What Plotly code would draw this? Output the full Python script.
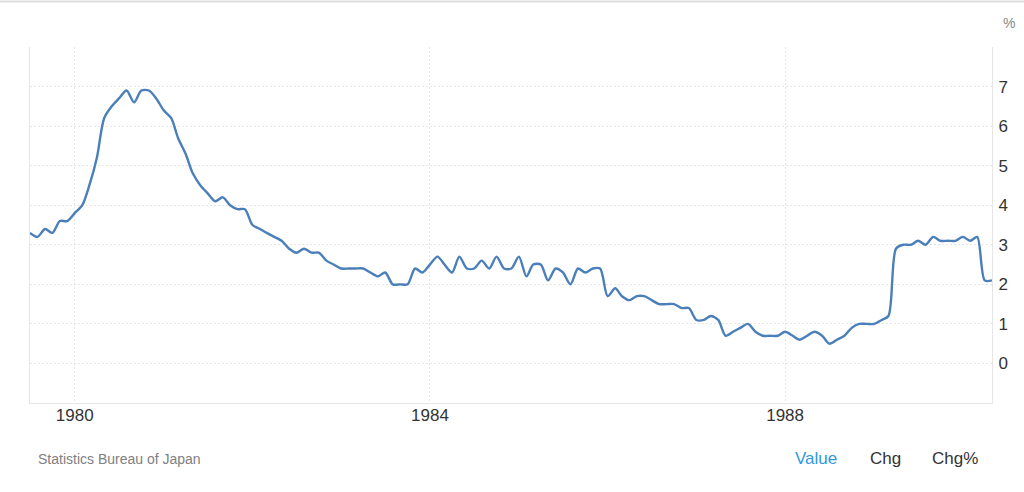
import pandas as pd
import plotly.graph_objects as go

# Monthly values, Jul 1979 .. May 1990 (percent)
start_month = "1979-07-01"
values = [
    3.3, 3.2, 3.4, 3.3, 3.6, 3.6,                                  # 1979 Jul-Dec
    3.8, 4.0, 4.5, 5.2, 6.2, 6.5, 6.7, 6.9, 6.6, 6.9, 6.9, 6.7,    # 1980
    6.4, 6.2, 5.7, 5.3, 4.8, 4.5, 4.3, 4.1, 4.2, 4.0, 3.9, 3.9,    # 1981
    3.5, 3.4, 3.3, 3.2, 3.1, 2.9, 2.8, 2.9, 2.8, 2.8, 2.6, 2.5,    # 1982
    2.4, 2.4, 2.4, 2.4, 2.3, 2.2, 2.3, 2.0, 2.0, 2.0, 2.4, 2.3,    # 1983
    2.5, 2.7, 2.5, 2.3, 2.7, 2.4, 2.4, 2.6, 2.4, 2.7, 2.4, 2.4,    # 1984
    2.7, 2.2, 2.5, 2.5, 2.1, 2.4, 2.3, 2.0, 2.4, 2.3, 2.4, 2.4,    # 1985
    1.7, 1.9, 1.7, 1.6, 1.7, 1.7, 1.6, 1.5, 1.5, 1.5, 1.4, 1.4,    # 1986
    1.1, 1.1, 1.2, 1.1, 0.7, 0.8, 0.9, 1.0, 0.8, 0.7, 0.7, 0.7,    # 1987
    0.8, 0.7, 0.6, 0.7, 0.8, 0.7, 0.5, 0.6, 0.7, 0.9, 1.0, 1.0,    # 1988
    1.0, 1.1, 1.2, 2.9, 3.0, 3.0, 3.1, 3.0, 3.2, 3.1, 3.1, 3.1,    # 1989
    3.2, 3.1, 3.2, 2.1, 2.1,                                       # 1990 Jan-May
]
dates = pd.date_range(start_month, periods=len(values), freq="MS")

x_tick_vals = ["1980-01-01", "1984-01-01", "1988-01-01"]
x_tick_text = ["1980", "1984", "1988"]
y_tick_vals = [-1, 0, 1, 2, 3, 4, 5, 6, 7, 8]
y_tick_text = ["", "0", "1", "2", "3", "4", "5", "6", "7", ""]

source_text = "Statistics Bureau of Japan"
unit_text = "%"
tabs = ["Value", "Chg", "Chg%"]

FONT = "Liberation Sans, Arial, sans-serif"

fig = go.Figure()
fig.add_trace(go.Scatter(
    x=dates, y=values, mode="lines",
    line=dict(color="#4a7fb9", width=2.4, shape="spline", smoothing=0.8),
    hoverinfo="skip", showlegend=False,
))

GRID = "#e6e6e6"
fig.update_layout(
    width=1024, height=492,
    margin=dict(l=30, r=32, t=47, b=89),
    paper_bgcolor="white", plot_bgcolor="white",
    font=dict(family=FONT, color="#333333"),
    hovermode=False,
    xaxis=dict(
        range=["1979-07-01", "1990-05-01"],
        tickvals=x_tick_vals, ticktext=x_tick_text,
        tickfont=dict(size=17, color="#333333"),
        showgrid=True, gridcolor=GRID, griddash="2px,2px", gridwidth=1,
        showline=True, linecolor="#e6e6e6", linewidth=1,
        zeroline=False, ticks="", ticklabelstandoff=-3,
    ),
    yaxis=dict(
        range=[-1, 8], side="right",
        tickvals=y_tick_vals, ticktext=y_tick_text,
        tickfont=dict(size=17, color="#333333"),
        showgrid=True, gridcolor=GRID, griddash="2px,2px", gridwidth=1,
        showline=True, mirror=True, linecolor="#e6e6e6", linewidth=1,
        zeroline=False, ticks="outside", ticklen=2, tickcolor="rgba(0,0,0,0)",
    ),
    shapes=[dict(
        type="line", xref="paper", yref="paper",
        x0=-0.04, x1=1.04, y0=1.128, y1=1.128,
        line=dict(color="#dddddd", width=2),
    )],
)

annotations = [
    dict(text=unit_text, xref="paper", yref="paper", x=1.0095, y=1.068,
         xanchor="left", yanchor="middle", showarrow=False,
         font=dict(size=14, color="#888888", family=FONT)),
    dict(text=source_text, xref="paper", yref="paper", x=0.0062, y=-0.157,
         xanchor="left", yanchor="middle", showarrow=False,
         font=dict(size=14, color="#808080", family=FONT)),
]
tab_x = [792.5, 868, 930]
tab_colors = ["#2f97e0", "#333333", "#333333"]
for label, px, col in zip(tabs, tab_x, tab_colors):
    annotations.append(dict(
        text=label, xref="paper", yref="paper", x=(px - 30) / 961.7, y=-0.157,
        xanchor="left", yanchor="middle", showarrow=False,
        font=dict(size=17, color=col, family=FONT)))
fig.update_layout(annotations=annotations)

fig.write_html("out.html", config={"displayModeBar": False, "staticPlot": True})

# remove the default page margin so the figure sits at the window origin
with open("out.html", "r", encoding="utf-8") as f:
    html = f.read()
html = html.replace("<head>", "<head><style>html,body{margin:0;padding:0;overflow:hidden;}</style>", 1)
with open("out.html", "w", encoding="utf-8") as f:
    f.write(html)
